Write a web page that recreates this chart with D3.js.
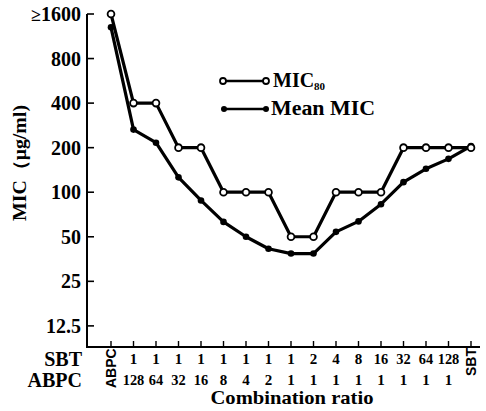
<!DOCTYPE html>
<html>
<head>
<meta charset="utf-8">
<script src="https://cdn.jsdelivr.net/npm/d3@7"></script>
<style>
  html, body { margin: 0; padding: 0; background: #fff; }
  svg { display: block; }
  text { font-family: "Liberation Serif", "Times New Roman", serif; font-weight: bold; fill: #000; }
  text.sans { font-family: "Liberation Sans", Arial, sans-serif; }
</style>
</head>
<body>
<svg id="chart" width="486" height="411"></svg>
<script>
// Combination ratios SBT : ABPC (end points are the single drugs)
const categories = ["ABPC","1:128","1:64","1:32","1:16","1:8","1:4","1:2","1:1","2:1","4:1","8:1","16:1","32:1","64:1","128:1","SBT"];
const sbtRow  = ["", "1","1","1","1","1","1","1","1","2","4","8","16","32","64","128", ""];
const abpcRow = ["", "128","64","32","16","8","4","2","1","1","1","1","1","1","1","1", ""];

// MIC values in µg/ml
const mic80   = [1600, 400, 400, 200, 200, 100, 100, 100, 50, 50, 100, 100, 100, 200, 200, 200, 200];
const meanMic = [1300, 265, 216, 126, 88, 63, 50, 41.5, 38.5, 38.5, 54, 63.5, 83, 117, 144, 168, 205];

const yTicks = [1600, 800, 400, 200, 100, 50, 25, 12.5];
const yTickLabels = ["1600", "800", "400", "200", "100", "50", "25", "12.5"];

const svg = d3.select("#chart");

const x = d3.scalePoint().domain(categories).range([111, 471]);
const y = d3.scaleLog().base(2).domain([9, 1600]).range([347, 14]);

// axes
const axisX0 = 87, axisY0 = 347;
svg.append("line").attr("x1", axisX0).attr("x2", axisX0).attr("y1", y(1600)).attr("y2", axisY0 + 1)
  .attr("stroke", "#000").attr("stroke-width", 2);
svg.append("line").attr("x1", axisX0 - 1).attr("x2", 480).attr("y1", axisY0).attr("y2", axisY0)
  .attr("stroke", "#000").attr("stroke-width", 2);

// y ticks (pointing inward)
const yg = svg.append("g");
yTicks.forEach((v, i) => {
  yg.append("line").attr("x1", axisX0).attr("x2", axisX0 + 7).attr("y1", y(v)).attr("y2", y(v))
    .attr("stroke", "#000").attr("stroke-width", 1.6);
  const t = yg.append("text").attr("x", 81).attr("y", y(v) + 7)
    .attr("text-anchor", "end").attr("font-size", 20);
  if (i === 0) {
    t.append("tspan").text("≥").attr("font-size", 18).attr("dx", 0);
    t.append("tspan").text(yTickLabels[i]);
  } else {
    t.text(yTickLabels[i]);
  }
});

// x ticks (pointing inward)
categories.forEach((c) => {
  svg.append("line").attr("x1", x(c)).attr("x2", x(c)).attr("y1", axisY0).attr("y2", axisY0 - 6)
    .attr("stroke", "#000").attr("stroke-width", 1.4);
});

// ratio labels
categories.forEach((c, i) => {
  const cx = x(c);
  if (sbtRow[i]) {
    const t1 = svg.append("text").attr("x", cx).attr("y", 364).attr("text-anchor", "middle")
      .attr("font-size", 15).text(sbtRow[i]);
    if (sbtRow[i].length > 1) t1.attr("textLength", sbtRow[i].length * 7.2).attr("lengthAdjust", "spacingAndGlyphs");
  }
  if (abpcRow[i]) {
    const t2 = svg.append("text").attr("x", cx).attr("y", 385).attr("text-anchor", "middle")
      .attr("font-size", 15).text(abpcRow[i]);
    if (abpcRow[i].length > 1) t2.attr("textLength", abpcRow[i].length * 7.2).attr("lengthAdjust", "spacingAndGlyphs");
  }
});
// single-drug end labels, set vertically
svg.append("text").attr("class", "sans").attr("transform", `translate(${x("ABPC") + 5},388) rotate(-90)`)
  .attr("font-size", 14).text("ABPC");
svg.append("text").attr("class", "sans").attr("transform", `translate(${x("SBT") + 5},376) rotate(-90)`)
  .attr("font-size", 14).text("SBT");

// row captions
svg.append("text").attr("x", 82).attr("y", 366).attr("text-anchor", "end").attr("font-size", 20).text("SBT");
svg.append("text").attr("x", 82).attr("y", 387).attr("text-anchor", "end").attr("font-size", 20).text("ABPC");

// axis titles
svg.append("text").attr("x", 292).attr("y", 404).attr("text-anchor", "middle").attr("font-size", 19)
  .attr("textLength", 163).attr("lengthAdjust", "spacingAndGlyphs").text("Combination ratio");
svg.append("text").attr("transform", "translate(26,163) rotate(-90)").attr("text-anchor", "middle")
  .attr("font-size", 18).attr("textLength", 116).attr("lengthAdjust", "spacingAndGlyphs").text("MIC（μg/ml)");

// series lines
const line = d3.line().x((d, i) => x(categories[i])).y(d => y(d));
svg.append("path").datum(meanMic).attr("d", line).attr("fill", "none")
  .attr("stroke", "#000").attr("stroke-width", 3.2).attr("stroke-linejoin", "round");
svg.append("path").datum(mic80).attr("d", line).attr("fill", "none")
  .attr("stroke", "#000").attr("stroke-width", 3.2).attr("stroke-linejoin", "round");

// markers
svg.append("g").selectAll("circle").data(meanMic).join("circle")
  .attr("cx", (d, i) => x(categories[i])).attr("cy", d => y(d)).attr("r", 3.3).attr("fill", "#000");
svg.append("g").selectAll("circle").data(mic80).join("circle")
  .attr("cx", (d, i) => x(categories[i])).attr("cy", d => y(d)).attr("r", 3.4)
  .attr("fill", "#fff").attr("stroke", "#000").attr("stroke-width", 1.8);

// legend
const lg = svg.append("g");
lg.append("line").attr("x1", 223).attr("x2", 266).attr("y1", 81).attr("y2", 81).attr("stroke", "#000").attr("stroke-width", 2.4);
[223, 266].forEach(cx => lg.append("circle").attr("cx", cx).attr("cy", 81).attr("r", 3)
  .attr("fill", "#fff").attr("stroke", "#000").attr("stroke-width", 1.8));
lg.append("line").attr("x1", 224).attr("x2", 266).attr("y1", 109).attr("y2", 109).attr("stroke", "#000").attr("stroke-width", 2.4);
[224, 266].forEach(cx => lg.append("circle").attr("cx", cx).attr("cy", 109).attr("r", 3).attr("fill", "#000"));

const l1 = lg.append("text").attr("x", 273).attr("y", 87).attr("font-size", 20);
l1.append("tspan").text("MIC");
l1.append("tspan").attr("font-size", 11).attr("dy", 3).text("80");
lg.append("text").attr("x", 271).attr("y", 115).attr("font-size", 20)
  .attr("textLength", 104).attr("lengthAdjust", "spacingAndGlyphs").text("Mean MIC");
</script>
</body>
</html>
